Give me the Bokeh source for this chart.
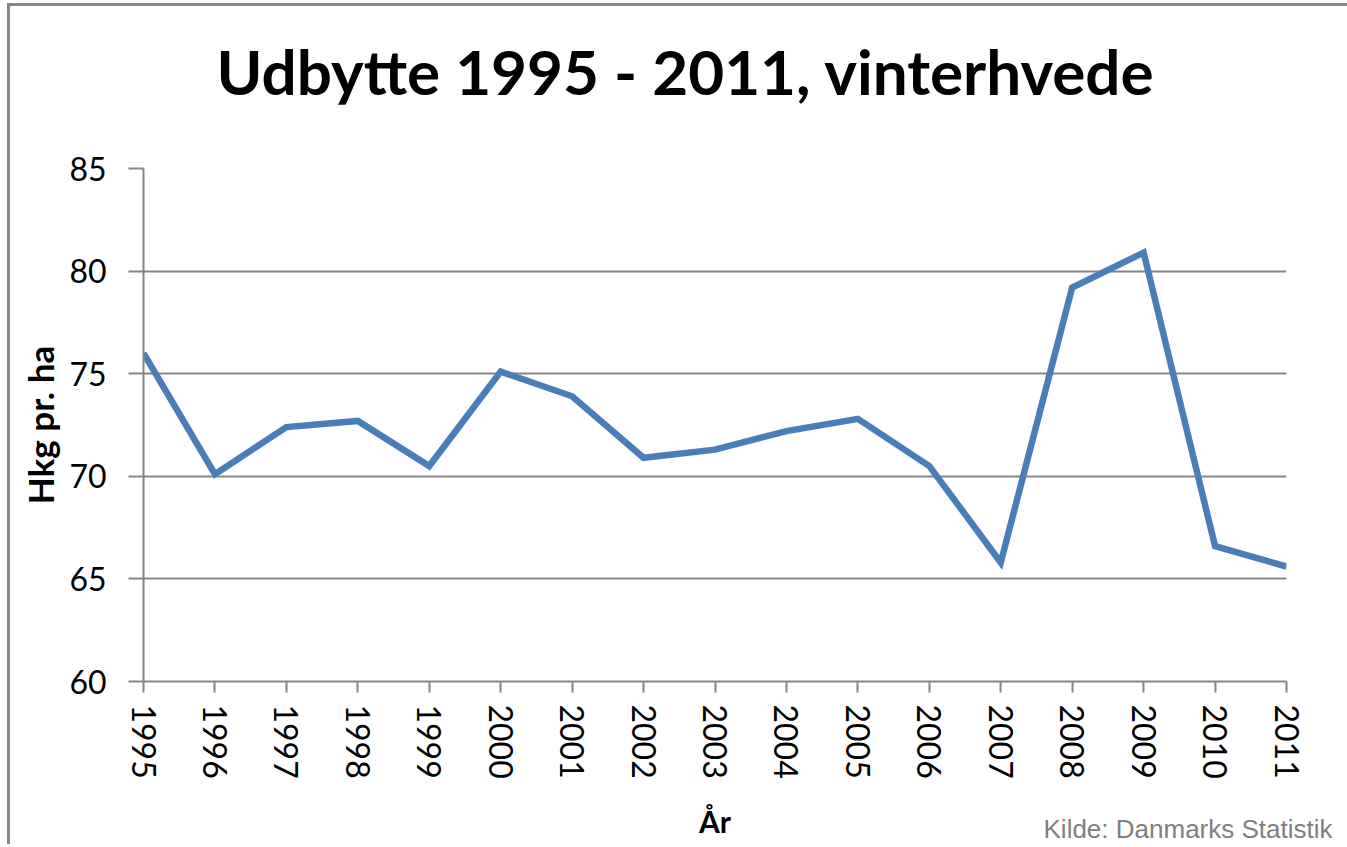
import math
from bokeh.plotting import figure
from bokeh.models import FixedTicker, Range1d, Title
from bokeh.embed import file_html
from bokeh.resources import INLINE

years = list(range(1995, 2012))
udbytte = [76.0, 70.1, 72.4, 72.7, 70.5, 75.1, 73.9, 70.9, 71.3, 72.2,
           72.8, 70.5, 65.8, 79.2, 80.9, 66.6, 65.6]
y_ticks = [60, 65, 70, 75, 80, 85]

title_text = "Udbytte 1995 - 2011, vinterhvede"
source_text = "Kilde: Danmarks Statistik"
x_label = "År"
y_label = "Hkg pr. ha"

GRAY = "#868686"
FONT = "Lato"

p = figure(width=1343, height=841, output_backend="svg", toolbar_location=None,
           x_range=Range1d(1995, 2011), y_range=Range1d(60, 85),
           min_border_left=133, min_border_right=67, min_border_top=162,
           min_border_bottom=166)
p.styles = {"box-shadow": f"-3px -3px 0px 0px {GRAY}",
            "margin-left": "10px", "margin-top": "6px",
            "background-color": "white"}
p.outline_line_color = None
p.background_fill_color = "white"
p.border_fill_color = "white"

p.line(years, udbytte, line_color="#4A7EBB", line_width=6.5, line_join="miter")

p.xgrid.grid_line_color = None
p.ygrid.grid_line_color = GRAY
p.ygrid.grid_line_width = 2
p.ygrid.ticker = FixedTicker(ticks=y_ticks)

p.yaxis.ticker = FixedTicker(ticks=y_ticks)
p.xaxis.ticker = FixedTicker(ticks=years)

for ax in (p.xaxis[0], p.yaxis[0]):
    ax.axis_line_color = GRAY
    ax.axis_line_width = 2
    ax.major_tick_line_color = GRAY
    ax.major_tick_line_width = 2
    ax.major_tick_in = 0
    ax.minor_tick_line_color = None
    ax.major_label_text_font = FONT
    ax.major_label_text_font_size = "32px"
    ax.major_label_text_color = "black"
    ax.axis_label_text_font = FONT
    ax.axis_label_text_font_style = "bold"
    ax.axis_label_text_color = "black"

p.yaxis.major_tick_out = 15
p.yaxis.major_label_standoff = 22
p.yaxis.axis_label = y_label
p.yaxis.axis_label_text_font_size = "35px"
p.yaxis.axis_label_standoff = 5

p.xaxis.major_tick_out = 11
p.xaxis.major_label_standoff = 12
p.xaxis.major_label_orientation = -math.pi / 2
p.xaxis.axis_label = x_label
p.xaxis.axis_label_text_font_size = "30px"
p.xaxis.axis_label_standoff = 21

# spacer between frame and main title, then the main title (outermost)
p.add_layout(Title(text=" ", text_font_size="1px", standoff=57), "above")
p.add_layout(Title(text=title_text, align="left", offset=73, standoff=2,
                   vertical_align="bottom", text_font=FONT, text_font_style="bold",
                   text_font_size="62px", text_color="black"), "above")

p.add_layout(Title(text=source_text, align="right", offset=-46, standoff=-56,
                   vertical_align="top", text_font="Liberation Sans",
                   text_font_style="normal", text_font_size="26px",
                   text_color="#808080"), "below")

open("out.html", "w").write(file_html(p, INLINE))
